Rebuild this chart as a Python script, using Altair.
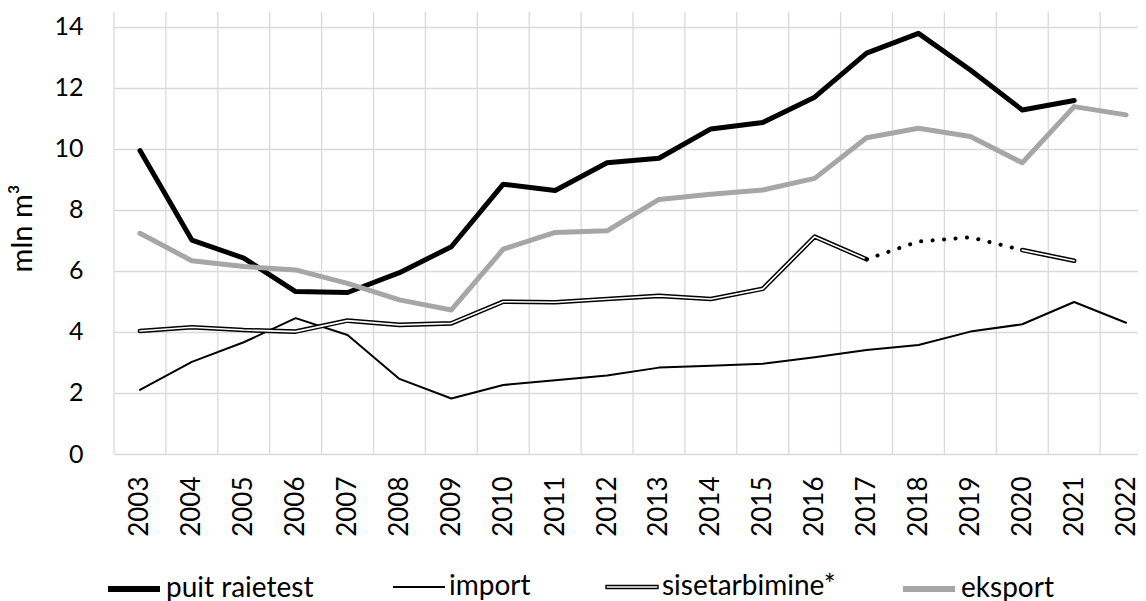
import altair as alt
import pandas as pd

# ---- data ----
years = list(range(2003, 2023))
puit_raietest = [9.94, 7.01, 6.42, 5.32, 5.29, 5.94, 6.79, 8.84, 8.63, 9.54,
                 9.69, 10.65, 10.86, 11.69, 13.13, 13.78, 12.58, 11.27, 11.58, None]
import_vals = [2.10, 3.02, 3.66, 4.45, 3.90, 2.46, 1.82, 2.26, 2.42, 2.57,
               2.83, 2.89, 2.96, 3.17, 3.41, 3.57, 4.01, 4.25, 4.98, 4.30]
sisetarbimine = [4.03, 4.15, 4.06, 4.01, 4.37, 4.23, 4.28, 4.99, 4.97, 5.08,
                 5.18, 5.08, 5.41, 7.12, 6.38, None, None, 6.68, 6.33, None]
sisetarbimine_hinnang = [None] * 14 + [6.38, 6.96, 7.10, 6.68, None, None]
eksport = [7.23, 6.33, 6.14, 6.03, 5.59, 5.05, 4.72, 6.71, 7.26, 7.31,
           8.34, 8.51, 8.65, 9.03, 10.36, 10.67, 10.40, 9.54, 11.38, 11.11]
y_ticks = [0, 2, 4, 6, 8, 10, 12, 14]

series_lists = {
    "puit raietest": puit_raietest,
    "import": import_vals,
    "sisetarbimine*": sisetarbimine,
    "hinnang": sisetarbimine_hinnang,
    "eksport": eksport,
}
rows = []
for name, vals in series_lists.items():
    for yr, v in zip(years, vals):
        rows.append({"year": yr, "series": name, "value": v})
df = pd.DataFrame(rows)
grid_df = pd.DataFrame({"gx": [yr - 0.5 for yr in years]})

# ---- layout / style ----
W, H = 1024, 442
XDOM = [2002.5, 2022.23]
YDOM = [0, 14.48]
FONT = "Lato"
GRID = "#d9d9d9"
LEG_Y = 548
DOUBLE_SYMBOL = "M-1,-0.055L1,-0.055L1,0.055L-1,0.055Z"

xscale = alt.Scale(domain=XDOM, nice=False, zero=False)
xaxis = alt.Axis(values=years, format="d", labelAngle=-90, grid=False, ticks=False,
                 domain=False, labelPadding=22, labelFont=FONT, labelFontSize=26,
                 labelColor="black", title=None)
yscale = alt.Scale(domain=YDOM, nice=False, zero=True)
yaxis = alt.Axis(values=y_ticks, grid=True, gridColor=GRID, gridWidth=1.3, domain=False,
                 ticks=False, labelPadding=31, labelFont=FONT, labelFontSize=25,
                 labelColor="black", title="mln m³", titleFont=FONT, titleFontSize=29,
                 titleFontWeight="normal", titleColor="black", titlePadding=16,
                 titleY=216)

vgrid = alt.Chart(grid_df).mark_rule(color=GRID, strokeWidth=1.3).encode(
    x=alt.X("gx:Q", scale=xscale, axis=xaxis),
    y=alt.value(0),
    y2=alt.value(H),
)


def make_legend(legend_x, sym_width, **extra):
    opts = dict(orient="none", legendX=legend_x, legendY=LEG_Y,
                symbolType="stroke", symbolSize=2704, symbolStrokeWidth=sym_width,
                labelFont=FONT, labelFontSize=28, labelColor="black", labelLimit=600,
                labelOffset=3, title=None, padding=0)
    opts.update(extra)
    return alt.Legend(**opts)


def line_layer(name, color, width, legend=None, dash=None):
    kw = dict(strokeWidth=width, strokeJoin="round", strokeCap="round")
    if dash is not None:
        kw["strokeDash"] = dash
    return alt.Chart(df).transform_filter(alt.datum.series == name).mark_line(**kw).encode(
        x=alt.X("year:Q", scale=xscale, axis=xaxis),
        y=alt.Y("value:Q", scale=yscale, axis=yaxis),
        color=alt.Color("series:N", scale=alt.Scale(domain=[name], range=[color]),
                        legend=legend),
    )


puit = line_layer("puit raietest", "#000000", 5, legend=make_legend(-9, 6))
imp = line_layer("import", "#000000", 2, legend=make_legend(278, 2))
sise_outer = line_layer(
    "sisetarbimine*", "#000000", 4.6,
    legend=make_legend(491, 1.4, symbolType=DOUBLE_SYMBOL,
                       symbolFillColor="#ffffff", symbolStrokeColor="#000000"))
sise_inner = line_layer("sisetarbimine*", "#ffffff", 1.6)
dotted = line_layer("hinnang", "#000000", 4, dash=[0.1, 11.4])
eks = line_layer("eksport", "#a6a6a6", 5, legend=make_legend(786, 6))

chart = alt.layer(vgrid, puit, imp, sise_outer, sise_inner, dotted, eks).resolve_scale(
    color="independent"
).properties(
    width=W, height=H,
    padding={"left": 106, "top": 4, "right": 0, "bottom": 147},
    autosize=alt.AutoSizeParams(type="none"),
).configure_view(stroke=None)

chart.save("out.html", embed_options={"renderer": "svg", "actions": False})
